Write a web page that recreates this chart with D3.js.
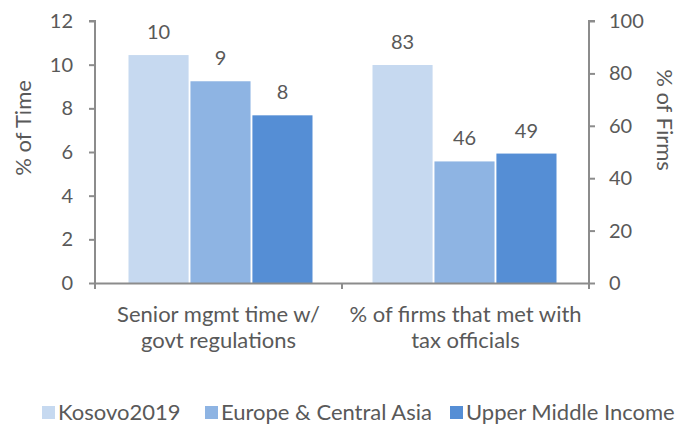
<!DOCTYPE html>
<html>
<head>
<meta charset="utf-8">
<script src="https://cdn.jsdelivr.net/npm/d3@7"></script>
<style>
  body { margin: 0; background: #fff; }
  svg text { font-family: Lato, "Open Sans", sans-serif; fill: #595959; }
</style>
</head>
<body>
<div id="chart-area"></div>
<script>
var width = 683;
var height = 426;

// data
var categories = ["Senior mgmt time w/ govt regulations", "% of firms that met with tax officials"];
var categoryLines = [["Senior mgmt time w/", "govt regulations"], ["% of firms that met with", "tax officials"]];
var seriesNames = ["Kosovo2019", "Europe & Central Asia", "Upper Middle Income"];
var timeValues = [10.44, 9.24, 7.68];   // left axis, % of Time
var firmValues = [83.2, 46.4, 49.4];    // right axis, % of Firms
var leftTicks = [0, 2, 4, 6, 8, 10, 12];
var rightTicks = [0, 20, 40, 60, 80, 100];
var colors = ["#c6d9f0", "#8eb4e3", "#558ed5"];

var plotLeft = 95, plotRight = 589, plotTop = 21, plotBottom = 283;

var svg = d3.select("#chart-area")
    .append("svg")
    .attr("width", width)
    .attr("height", height);

var x0 = d3.scaleBand()
    .domain(categories)
    .range([plotLeft, plotRight]);

var x1 = d3.scaleBand()
    .domain(seriesNames)
    .range([0, 184])
    .paddingInner(0.03);

var yLeft = d3.scaleLinear().domain([0, 12]).range([plotBottom, plotTop]);
var yRight = d3.scaleLinear().domain([0, 100]).range([plotBottom, plotTop]);

var groups = [
    { cat: categories[0], values: timeValues, y: yLeft, shift: 2 },
    { cat: categories[1], values: firmValues, y: yRight, shift: -1 }
];

groups.forEach(function (grp) {
    var offset = x0(grp.cat) + (x0.bandwidth() - 184) / 2 + grp.shift;
    var g = svg.append("g").attr("transform", `translate(${offset}, 0)`);
    g.selectAll("rect")
        .data(grp.values)
        .enter()
        .append("rect")
        .attr("x", (d, i) => x1(seriesNames[i]))
        .attr("y", d => grp.y(d))
        .attr("width", x1.bandwidth())
        .attr("height", d => plotBottom - grp.y(d))
        .attr("fill", (d, i) => colors[i]);
    g.selectAll("text.lbl")
        .data(grp.values)
        .enter()
        .append("text")
        .attr("class", "lbl")
        .attr("x", (d, i) => x1(seriesNames[i]) + x1.bandwidth() / 2)
        .attr("y", d => grp.y(d) - 16)
        .attr("text-anchor", "middle")
        .attr("font-size", "20px")
        .text(d => Math.round(d));
});

// left axis
var yAxisL = d3.axisLeft(yLeft).tickValues(leftTicks).tickSize(6).tickPadding(16);
var gl = svg.append("g").attr("transform", `translate(${plotLeft}, 0)`).call(yAxisL);
// right axis
var yAxisR = d3.axisRight(yRight).tickValues(rightTicks).tickSize(6).tickPadding(14);
var gr = svg.append("g").attr("transform", `translate(${plotRight}, 0)`).call(yAxisR);
// bottom axis
var xAxis = d3.axisBottom(x0).tickValues([]).tickSizeOuter(0);
var gx = svg.append("g").attr("transform", `translate(0, ${plotBottom})`).call(xAxis);
gx.selectAll(".tick").remove();
[plotLeft, x0(categories[1]), plotRight].forEach(function (t) {
    gx.append("line").attr("x1", t).attr("x2", t).attr("y1", 0).attr("y2", 6);
});

[gl, gr, gx].forEach(function (a) {
    a.select(".domain").attr("stroke", "#8c8c8c").attr("stroke-width", 2);
    a.selectAll("line").attr("stroke", "#8c8c8c").attr("stroke-width", 2);
    a.selectAll("text").attr("font-size", "20px").attr("fill", "#595959")
        .attr("font-family", "Lato, 'Open Sans', sans-serif");
});
gl.select(".domain").attr("d", `M-6,${plotTop}H0V${plotBottom}`);
gr.select(".domain").attr("d", `M6,${plotTop}H0V${plotBottom + 6}`);

// category labels
categoryLines.forEach(function (lines, i) {
    var cx = x0(categories[i]) + x0.bandwidth() / 2;
    svg.append("text")
        .attr("x", cx)
        .attr("y", 322)
        .attr("text-anchor", "middle")
        .attr("font-size", "22px")
        .selectAll("tspan")
        .data(lines)
        .enter()
        .append("tspan")
        .attr("x", cx)
        .attr("dy", (d, j) => j === 0 ? 0 : 26)
        .text(d => d);
});

// axis titles
svg.append("text")
    .attr("transform", `translate(31, 128) rotate(-90)`)
    .attr("text-anchor", "middle")
    .attr("font-size", "22px")
    .text("% of Time");

svg.append("text")
    .attr("transform", `translate(657, 120) rotate(90)`)
    .attr("text-anchor", "middle")
    .attr("font-size", "22px")
    .text("% of Firms");

// legend
var legendX = [42, 205, 450];
var legend = svg.selectAll("g.legend")
    .data(seriesNames)
    .enter()
    .append("g")
    .attr("class", "legend")
    .attr("transform", (d, i) => `translate(${legendX[i]}, 413)`);
legend.append("rect")
    .attr("x", 0).attr("y", -7)
    .attr("width", 13).attr("height", 13)
    .attr("fill", (d, i) => colors[i]);
legend.append("text")
    .attr("x", 16).attr("y", 7)
    .attr("font-size", "22px")
    .text(d => d);
</script>
</body>
</html>
